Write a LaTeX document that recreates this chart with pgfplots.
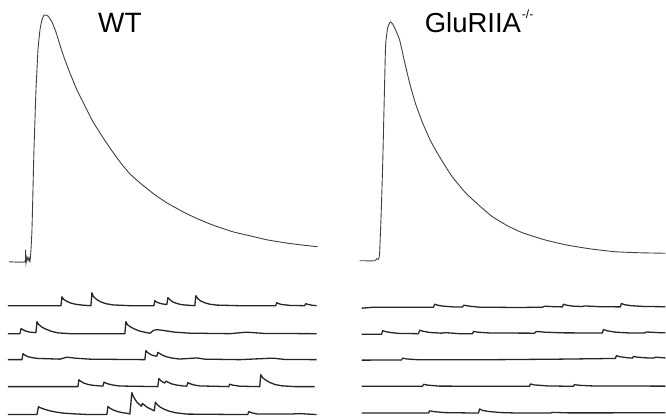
\documentclass[border=0pt]{standalone}
\usepackage{fontspec}
\setmainfont{Liberation Sans}
\usepackage{pgfplots}
\pgfplotsset{compat=1.18}

\begin{document}
\begin{tikzpicture}
\begin{axis}[
    width=666pt, height=419pt, scale only axis,
    xmin=0, xmax=666, ymin=0, ymax=419,
    y dir=reverse,
    hide axis, clip=false,
    big/.style={black!75, line width=0.9pt, smooth, tension=0.3},
    mini/.style={black!85, line width=1.3pt, line join=round},
]
% evoked traces
\addplot[big] coordinates {
  (9,262) (25,262) (25.5,250) (26,264) (27,257) (28,261) (29,258) (30,262) (31,250) (32,230)
  (33,190) (34,150) (35,120) (36,90) (37,70) (38,50) (40,30) (42,20) (44,15) (45,15)
  (48,16) (52,22) (56,32) (60,45) (65,60) (70,73) (77,90) (85,106) (92,120) (100,133)
  (110,148) (120,162) (130,174) (140,183) (155,195) (167,203) (185,213) (200,220)
  (215,226) (233,232) (250,236) (267,240) (285,243) (300,245) (318,247)
};
\addplot[big] coordinates {
  (360,261) (375,261) (377,259) (379,259.5) (380,253) (381.5,215) (383,167) (384,125) (385,83)
  (386,45) (388,28) (390,23) (391,22) (393,24) (396,30) (400,40) (405,62) (410,83)
  (416,104) (423,123) (431,141) (440,157) (452,176) (466,193) (480,206) (493,217)
  (508,226) (523,233) (545,240) (566,245) (590,249) (616,252) (640,253) (666,253.5)
};
% WT minis
\addplot[mini] coordinates {
  (8,306) (61,306) (62,297) (63.5,299.5) (67,301.7) (71,303.4) (76,304.6) (83,305.5)
  (91,306) (92,293) (93.5,296.9) (97,300) (101,302.2) (106,304) (113,305.2) (130,306)
  (154,306) (155,301) (157,302.5) (160,303.6) (163,304.3) (167,304.8) (168,298) (170,299.9)
  (173,302.2) (177,303.8) (182,305) (189,305.6) (195,306) (196,296) (198,299) (201,301.3)
  (205,303.1) (210,304.5) (217,305.4) (240,306) (276,306) (277,303) (279,304) (282,304.8)
  (290,305.7) (305,306) (306,304) (308,304.6) (312,305.5) (317,306)
};
\addplot[mini] coordinates {
  (8,334) (20,334) (21,329) (23,330) (26,331.5) (30,332.5) (36,333) (37,322) (38.5,324.5)
  (42,327.5) (46,329.5) (51,331.5) (58,333.2) (70,334) (125,334) (126,322) (127.5,325)
  (131,327.5) (135,329.5) (140,331.5) (147,333) (150,333.5) (154,330.5) (158,330)
  (165,331) (175,332.5) (190,333.5) (230,334) (247,332.5) (265,333.8) (317,334)
};
\addplot[mini] coordinates {
  (8,360) (22,360) (23,354) (25,355.5) (28,357) (32,358) (38,358.8) (45,359) (60,359.5)
  (67,357.5) (75,358.5) (90,359.5) (145,360) (146,351) (148,353) (151,355) (154,356)
  (157,356.5) (158,352.7) (160,354) (163,355.7) (167,357.2) (172,358.4) (180,359.4)
  (197,358.3) (205,359.5) (240,360) (273,358.5) (285,359.8) (317,360)
};
\addplot[mini] coordinates {
  (8,387) (78,387) (79,380) (80.5,381.5) (84,383.5) (88,384.8) (93,385.7) (100,386.3)
  (103,386.5) (104,382.5) (106,383.5) (109,384.5) (114,385.6) (120,386.4) (158,387)
  (159,379) (161,381) (164,383) (165,383.3) (166,381.5) (168,382.5) (172,384.3)
  (177,385.5) (184,386.4) (187,386.5) (188,383) (190,384) (194,385.3) (200,386.3)
  (229,387) (230,384.5) (233,385.5) (240,386.6) (260,387) (261,375) (262.5,377.7)
  (266,380.5) (270,382.8) (275,384.8) (282,386.2) (295,387) (315,387)
};
\addplot[mini] coordinates {
  (8,415) (37,415) (38.5,407) (40,408) (44,409.5) (49,411) (55,412.3) (63,413.5)
  (75,414.3) (90,415) (107,415) (108,407) (110,408.5) (113,410.2) (117,411.7) (122,413)
  (129,414) (130,414.5) (132,393) (133.5,397) (137,402.5) (141.5,406.7) (142.5,404)
  (144,405) (147,407.5) (151,409.5) (154.5,411.3) (155.5,402.5) (157,404.5) (160,407.3)
  (164,409.5) (169,411.5) (176,413.2) (187,414.5) (248,415) (249,412) (252,413.2)
  (258,414.5) (290,414.5) (300,414) (317,415)
};
% GluRIIA minis
\addplot[mini] coordinates {
  (362,308.5) (374,307.5) (434,307.5) (435,304.5) (438,305.5) (444,306.5) (455,307.3)
  (463,307.3) (464,305.5) (470,306.5) (480,307.5) (520,307.8) (543,307.5) (545,306.5)
  (555,307) (563,307.2) (564,304.5) (567,305.5) (574,306.5) (583,306.8) (585,306.2)
  (600,307) (621,307.2) (622,303.8) (625,305) (632,306) (645,306.8) (666,307)
};
\addplot[mini] coordinates {
  (362,334.5) (382,334.5) (383,331) (386,332) (392,333) (400,333.8) (419,334) (420,330.5)
  (423,331.5) (430,332.8) (442,333.5) (446,333) (460,334) (473,334) (474,331.7)
  (478,332.5) (490,333.3) (535,333.5) (537,331.8) (545,332.5) (565,333.2) (603,333.3)
  (604,329.8) (608,331.2) (616,332.5) (630,333.3) (645,333.3) (647,332.3) (660,333) (666,333)
};
\addplot[mini] coordinates {
  (362,360.5) (402,360.3) (403,358.5) (407,359.3) (420,360.2) (500,360) (560,359.5)
  (616,358.8) (617,356) (620,357) (627,358) (633,358.5) (634,356.8) (638,357.5)
  (648,358.3) (655,358.3) (656,357.5) (666,358.3)
};
\addplot[mini] coordinates {
  (362,386.7) (423,386.7) (424,384.7) (428,385.5) (440,386.5) (530,386.7) (531,384.3)
  (535,385.3) (548,386.3) (574,386.7) (575,385) (580,385.7) (595,386.4) (666,386.5)
};
\addplot[mini] coordinates {
  (362,413.5) (429,413.5) (430,411.2) (434,412) (445,413) (479,413.5) (480,409.3)
  (483,410.8) (490,412) (502,413) (520,413.5) (551,413.5) (553,412.8) (570,413.3) (666,413.2)
};
\node[anchor=base west, inner sep=0pt, font=\fontsize{28}{32}\selectfont] at (axis cs:98,33) {WT};
\node[anchor=base west, inner sep=0pt, font=\fontsize{27.5}{32}\selectfont] at (axis cs:425,33)
  {GluRIIA\kern1pt\raisebox{14pt}{\fontsize{12}{14}\selectfont -/-}};
\end{axis}
\path (current axis.south west) rectangle (current axis.north east);
\end{tikzpicture}
\end{document}
